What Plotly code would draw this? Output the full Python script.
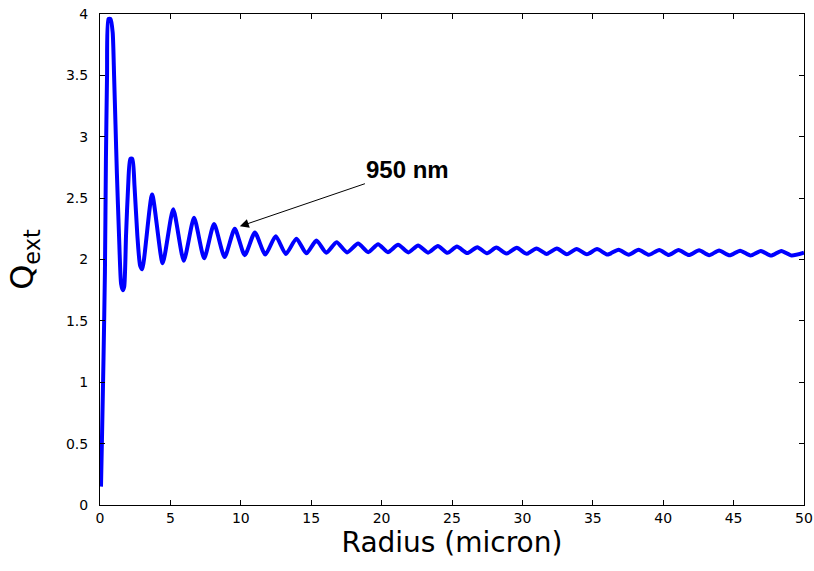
import plotly.graph_objects as go

# Radius (micron) and extinction efficiency Q_ext
radius = [0.07, 0.15, 0.25, 0.35, 0.42, 0.5, 0.6, 0.75, 0.9, 1.0, 1.1, 1.2, 1.35, 1.5, 1.62, 1.72,
          1.85, 2.0, 2.15, 2.3, 2.45, 2.65, 2.85, 3.0,
          3.7, 4.45, 5.2, 5.95, 6.68, 7.4, 8.1, 8.85, 9.57, 10.28, 11.0, 11.74, 12.48, 13.2,
          13.95, 14.66, 15.37, 16.08, 16.8, 17.55, 18.33, 19.05, 19.75, 20.45, 21.17, 21.9,
          22.59, 23.3, 24.0, 24.68, 25.35, 26.08, 26.8, 27.48, 28.15, 28.88, 29.6, 30.3,
          31.0, 31.72, 32.45, 33.15, 33.85, 34.58, 35.3, 36.05, 36.83, 37.55, 38.25, 38.98,
          39.72, 40.4, 41.09, 41.82, 42.55, 43.26, 43.97, 44.72, 45.46, 46.2, 46.93, 47.66,
          48.39, 49.12, 50.0]
qext = [0.15, 0.6, 1.2, 1.9, 2.8, 3.5, 3.96, 3.96, 3.85, 3.5, 3.1, 2.7, 2.2, 1.8, 1.75, 1.78,
        2.2, 2.6, 2.82, 2.82, 2.6, 2.2, 1.95, 1.92,
        2.53, 1.97, 2.41, 1.99, 2.34, 2.01, 2.29, 2.02, 2.25, 2.035, 2.22, 2.04, 2.19, 2.045,
        2.17, 2.05, 2.155, 2.055, 2.14, 2.058, 2.13, 2.06, 2.125, 2.06, 2.12, 2.058,
        2.115, 2.056, 2.11, 2.054, 2.105, 2.052, 2.10, 2.05, 2.097, 2.048, 2.095, 2.046,
        2.09, 2.045, 2.09, 2.043, 2.086, 2.042, 2.085, 2.04, 2.08, 2.039, 2.08, 2.038,
        2.078, 2.037, 2.077, 2.036, 2.075, 2.035, 2.073, 2.034, 2.072, 2.033, 2.07, 2.032,
        2.07, 2.032, 2.055]

x_ticks = [0, 5, 10, 15, 20, 25, 30, 35, 40, 45, 50]
y_ticks = [0, 0.5, 1, 1.5, 2, 2.5, 3, 3.5, 4]
y_tick_labels = ["0", "0.5", "1", "1.5", "2", "2.5", "3", "3.5", "4"]

annot_text = "950 nm"
annot_tip = (9.93, 2.27)
annot_text_pos = (21.87, 2.737)

FONT = "DejaVu Sans, Liberation Sans, Arial, sans-serif"

fig = go.Figure()
fig.add_trace(go.Scatter(x=radius, y=qext, mode="lines",
                         line=dict(color="#0000FF", width=4, shape="spline", smoothing=0.6),
                         showlegend=False))

fig.add_annotation(x=annot_tip[0], y=annot_tip[1], ax=annot_text_pos[0], ay=annot_text_pos[1],
                   axref="x", ayref="y", xref="x", yref="y",
                   text="<b>" + annot_text + "</b>", showarrow=True,
                   arrowhead=2, arrowsize=1.8, arrowwidth=1, arrowcolor="black",
                   font=dict(family="Liberation Sans, Arial, sans-serif", size=24, color="black"))

axis_common = dict(showgrid=False, zeroline=False, showline=True, linecolor="black", linewidth=1,
                   mirror="ticks", ticks="inside", ticklen=5, tickcolor="black", automargin=False,
                   tickfont=dict(family=FONT, size=14, color="black"))

fig.update_xaxes(range=[0, 50], tickvals=x_ticks, ticktext=[str(v) for v in x_ticks],
                 title=dict(text="Radius (micron)", standoff=6,
                            font=dict(family=FONT, size=28, color="black")),
                 **axis_common)
fig.update_yaxes(range=[0, 4], tickvals=y_ticks, ticktext=y_tick_labels,
                 ticklabelstandoff=8,
                 title=dict(text="Q<sub>ext</sub>", standoff=22,
                            font=dict(family=FONT, size=32, color="black")),
                 **axis_common)

fig.update_layout(width=814, height=571, margin=dict(l=100, r=10, t=14, b=66),
                  plot_bgcolor="white", paper_bgcolor="white")

fig.write_html("out.html")
